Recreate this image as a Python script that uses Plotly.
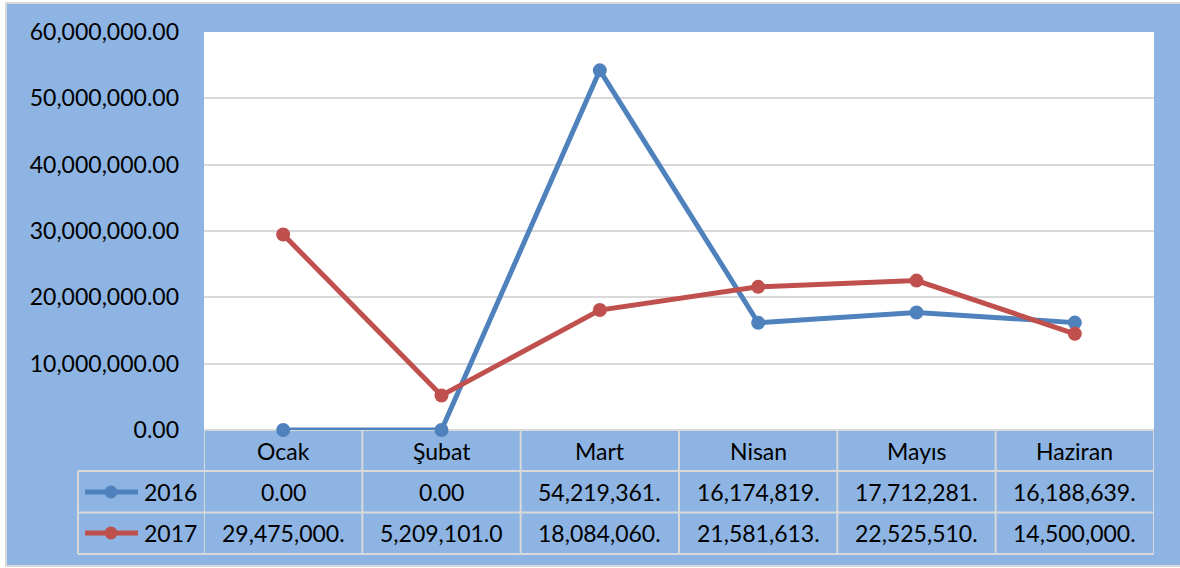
import plotly.graph_objects as go

months = ["Ocak", "Şubat", "Mart", "Nisan", "Mayıs", "Haziran"]
series_names = ["2016", "2017"]
values_2016 = [0, 0, 54219361, 16174819, 17712281, 16188639]
values_2017 = [29475000, 5209101, 18084060, 21581613, 22525510, 14500000]
table_2016 = ["0.00", "0.00", "54,219,361.", "16,174,819.", "17,712,281.", "16,188,639."]
table_2017 = ["29,475,000.", "5,209,101.0", "18,084,060.", "21,581,613.", "22,525,510.", "14,500,000."]
y_ticks = [0, 10000000, 20000000, 30000000, 40000000, 50000000, 60000000]

BLUE = "#4F81BD"
RED = "#C0504D"
BG = "#8DB4E2"
GRID = "#D9D9D9"
FONT = "Lato"
FS = 23

W, H = 1180, 568
L, R, T, B = 204, 26, 32, 138
PW = W - L - R
PH = H - T - B

def px_x(p):
    return (p - L) / PW

def px_y(p):
    return (H - B - p) / PH

xs = list(range(len(months)))
fig = go.Figure()
for name, vals, col in [(series_names[0], values_2016, BLUE), (series_names[1], values_2017, RED)]:
    fig.add_trace(go.Scatter(
        x=xs, y=vals, name=name, mode="lines+markers",
        line=dict(color=col, width=5),
        marker=dict(color=col, size=14),
        cliponaxis=False,
    ))

shapes = []
ann = []
# outer frame
shapes.append(dict(type="rect", xref="paper", yref="paper", x0=px_x(6), x1=px_x(1185), y0=px_y(566), y1=px_y(3),
                   line=dict(color=GRID, width=2), fillcolor="rgba(0,0,0,0)", layer="above"))
# white outside strips
shapes.append(dict(type="rect", xref="paper", yref="paper", x0=px_x(-5), x1=px_x(1190), y0=px_y(2), y1=px_y(-5),
                   line=dict(width=0), fillcolor="white", layer="above"))
shapes.append(dict(type="rect", xref="paper", yref="paper", x0=px_x(-5), x1=px_x(5), y0=px_y(575), y1=px_y(-5),
                   line=dict(width=0), fillcolor="white", layer="above"))
shapes.append(dict(type="rect", xref="paper", yref="paper", x0=px_x(-5), x1=px_x(1190), y0=px_y(575), y1=px_y(567),
                   line=dict(width=0), fillcolor="white", layer="above"))

# table geometry (pixel rows)
row_lines = [430, 471, 512.5, 554]
row_centers = [451, 492, 533]
# horizontal lines
shapes.append(dict(type="line", xref="paper", yref="paper", x0=0, x1=1, y0=px_y(row_lines[0]), y1=px_y(row_lines[0]),
                   line=dict(color=GRID, width=2), layer="below"))
for rl in row_lines[1:]:
    shapes.append(dict(type="line", xref="paper", yref="paper", x0=px_x(78), x1=1, y0=px_y(rl), y1=px_y(rl),
                       line=dict(color=GRID, width=2), layer="below"))
# vertical lines at category boundaries
for i in range(len(months) + 1):
    shapes.append(dict(type="line", xref="x", yref="paper", x0=i - 0.5, x1=i - 0.5,
                       y0=px_y(row_lines[0]), y1=px_y(row_lines[-1]), line=dict(color=GRID, width=2), layer="below"))
shapes.append(dict(type="line", xref="paper", yref="paper", x0=px_x(78), x1=px_x(78),
                   y0=px_y(row_lines[1]), y1=px_y(row_lines[-1]), line=dict(color=GRID, width=2), layer="below"))

# header and cell texts
for i, m in enumerate(months):
    ann.append(dict(x=i, y=px_y(row_centers[0]), xref="x", yref="paper", text=m, showarrow=False,
                    font=dict(family=FONT, size=FS, color="black"), xanchor="center", yanchor="middle"))
for r, (row, col, name) in enumerate([(table_2016, BLUE, series_names[0]), (table_2017, RED, series_names[1])]):
    yc = px_y(row_centers[r + 1])
    for i, t in enumerate(row):
        ann.append(dict(x=i, y=yc, xref="x", yref="paper", text=t, showarrow=False,
                        font=dict(family=FONT, size=FS, color="black"), xanchor="center", yanchor="middle"))
    # legend key
    shapes.append(dict(type="line", xref="paper", yref="paper", x0=px_x(85), x1=px_x(138), y0=yc, y1=yc,
                       line=dict(color=col, width=5)))
    r_px = 6.5
    shapes.append(dict(type="circle", xref="paper", yref="paper",
                       x0=px_x(111 - r_px), x1=px_x(111 + r_px),
                       y0=yc - r_px / PH, y1=yc + r_px / PH,
                       line=dict(color=col, width=0), fillcolor=col))
    ann.append(dict(x=px_x(142), y=yc, xref="paper", yref="paper", text=name, showarrow=False,
                    font=dict(family=FONT, size=FS, color="black"), xanchor="left", yanchor="middle"))

fig.update_layout(
    width=W, height=H,
    margin=dict(l=L, r=R, t=T, b=B, pad=0),
    paper_bgcolor=BG, plot_bgcolor="white",
    showlegend=False,
    shapes=shapes, annotations=ann,
    xaxis=dict(range=[-0.5, len(months) - 0.5], showgrid=False, zeroline=False, showticklabels=False,
               showline=False, fixedrange=True),
    yaxis=dict(range=[0, 60000000], tickvals=y_ticks, tickformat=",.2f", showgrid=True, gridcolor=GRID,
               gridwidth=1.5, zeroline=False, showline=False, ticks="", ticklabelstandoff=24,
               tickfont=dict(family=FONT, size=FS, color="black")),
)

fig.write_html("out.html", config={"displayModeBar": False},
               post_script="document.body.style.margin='0';")
